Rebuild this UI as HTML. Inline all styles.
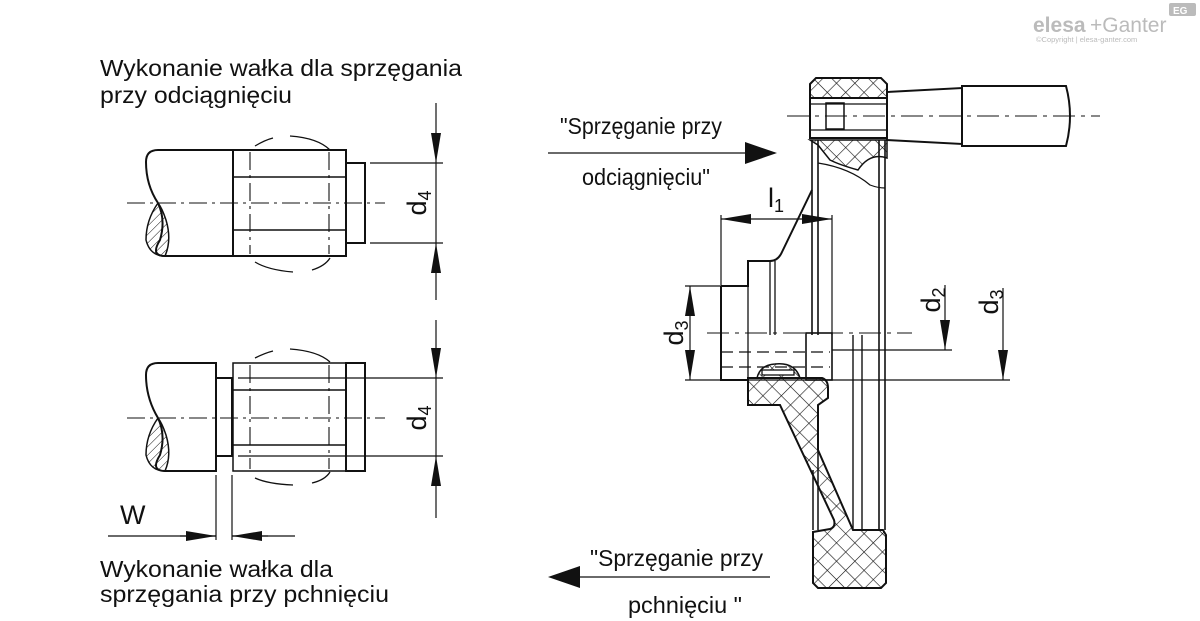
<!DOCTYPE html>
<html><head><meta charset="utf-8"><style>
html,body{margin:0;padding:0;background:#fff}
svg{display:block}
text{font-family:"Liberation Sans",sans-serif;fill:#111}
</style></head><body>
<svg width="1200" height="621" viewBox="0 0 1200 621" xmlns="http://www.w3.org/2000/svg">
<defs>
<pattern id="xh" width="13" height="13" patternUnits="userSpaceOnUse" patternTransform="rotate(45)">
<path d="M0 0H13M0 0V13" stroke="#111" stroke-width="1.2" fill="none"/>
</pattern>
<pattern id="sh" width="6" height="6" patternUnits="userSpaceOnUse" patternTransform="rotate(-45)">
<path d="M0 0H6" stroke="#111" stroke-width="1" fill="none"/>
</pattern>
<marker id="a" viewBox="0 0 30 10" refX="30" refY="5" markerWidth="30" markerHeight="10" markerUnits="userSpaceOnUse" orient="auto"><path d="M0 0L30 5L0 10z" fill="#111"/></marker>
</defs>

<!-- logo -->
<text x="1033" y="32" font-size="21" font-weight="bold" style="fill:#bbb">elesa</text>
<text x="1090" y="32" font-size="21" style="fill:#bbb">+Ganter</text>
<text x="1036" y="42" font-size="7.5" style="fill:#bbb">©Copyright | elesa-ganter.com</text>
<rect x="1169" y="3" width="27" height="13" rx="2" fill="#bbb"/>
<text x="1173" y="14" font-size="10" font-weight="bold" style="fill:#fff">EG</text>

<!-- texts left -->
<g font-size="23">
<text x="100" y="76" textLength="362" lengthAdjust="spacingAndGlyphs">Wykonanie wałka dla sprzęgania</text>
<text x="100" y="103" textLength="192" lengthAdjust="spacingAndGlyphs">przy odciągnięciu</text>
<text x="100" y="577" textLength="233" lengthAdjust="spacingAndGlyphs">Wykonanie wałka dla</text>
<text x="100" y="602" textLength="289" lengthAdjust="spacingAndGlyphs">sprzęgania przy pchnięciu</text>
</g>

<g stroke="#111" fill="none" stroke-width="2">
<!-- top shaft -->
<path d="M233 150H158Q146 150 146 162Q146 185 158 203Q166 220 160 240Q150 256 165 256H233"/>
<path d="M158 203Q146 220 146 240Q150 256 165 256Q172 240 166 220Q162 208 158 203z" fill="url(#sh)" stroke-width="1.5"/>
<rect x="233" y="150" width="113" height="106"/>
<rect x="346" y="163" width="19" height="80"/>
<path d="M233 177H346M233 230H346" stroke-width="1.5"/>
<path d="M255 146Q265 140 273 138M290 136Q318 138 330 150M255 262Q268 270 293 272M312 270Q325 266 330 258" stroke-width="1.3"/>
<path d="M370 163H443M370 243H443" stroke-width="1.2"/>
<path d="M436 103V163" stroke-width="1.2" marker-end="url(#a)"/>
<path d="M436 300V243" stroke-width="1.2" marker-end="url(#a)"/>
<path d="M436 163V243" stroke-width="1.2"/>
<path d="M127 203H385M250 152V254M329 152V254" stroke-width="1.1" stroke-dasharray="18 5 3 5"/>

<!-- bottom shaft -->
<path d="M216 363H158Q146 363 146 375Q146 398 158 418Q166 435 160 455Q150 471 165 471H216Z"/>
<path d="M158 418Q146 435 146 455Q150 471 165 471Q172 455 166 435Q162 423 158 418z" fill="url(#sh)" stroke-width="1.5"/>
<rect x="216" y="378" width="16" height="78"/>
<rect x="233" y="363" width="113" height="108" stroke-width="1.5"/>
<rect x="346" y="363" width="19" height="108"/>
<path d="M233 390H346M233 445H346" stroke-width="1.5"/>
<path d="M255 358Q265 353 273 351M290 349Q318 351 330 362M255 478Q268 484 293 485M312 483Q325 480 330 472" stroke-width="1.3"/>
<path d="M238 378H443M238 456H443" stroke-width="1.2"/>
<path d="M436 320V378" stroke-width="1.2" marker-end="url(#a)"/>
<path d="M436 518V456" stroke-width="1.2" marker-end="url(#a)"/>
<path d="M436 378V456" stroke-width="1.2"/>
<path d="M127 418H385M250 365V469M329 365V469" stroke-width="1.1" stroke-dasharray="18 5 3 5"/>
<!-- W -->
<path d="M216 475V540M232 475V540" stroke-width="1.2"/>
<path d="M108 536H216M232 536H295" stroke-width="1.2"/>
<path d="M180 536H216" stroke-width="1.2" marker-end="url(#a)"/>
<path d="M268 536H232" stroke-width="1.2" marker-end="url(#a)"/>

<!-- arrows right -->
<path d="M548 153H775" stroke-width="1.3"/>
<path d="M745 142L777 153L745 164z" fill="#111" stroke="none"/>
<path d="M580 577H770" stroke-width="1.3"/>
<path d="M580 566L548 577L580 588z" fill="#111" stroke="none"/>

<!-- handle -->
<path d="M887 92L962 88V144L887 140Z"/>
<path d="M962 86H1066Q1074 116 1066 146H962Z"/>
<path d="M787 116H1100" stroke-width="1.1" stroke-dasharray="22 6 4 6"/>

<!-- rim top -->
<path d="M810 84L816 78H881L887 84V98H810Z" fill="url(#xh)"/>
<rect x="810" y="98" width="77" height="40"/>
<path d="M810 104H887M810 130H887" stroke-width="1.3"/>
<rect x="826" y="103" width="18" height="26" stroke-width="1.5"/>
<path d="M810 140H887V158Q870 152 858 170Q840 165 830 160Q822 150 818 145Z" fill="url(#xh)" stroke-width="1.5"/>
<path d="M818 163Q850 168 870 185Q878 188 885 188" stroke-width="1.2"/>
<path d="M812 140V335M818 140V335M879 140V530M885 140V530" stroke-width="1.6"/>
<path d="M853 335V530M862 335V530" stroke-width="1.4"/>

<!-- hub -->
<path d="M721 286H748V261H770Q778 261 782 252L812 190" />
<path d="M721 286V380H748" />
<path d="M748 261V380M770 261V335M775 261V335" stroke-width="1.3"/>
<rect x="806" y="333" width="26" height="47" stroke-width="1.6"/>
<path d="M721 352H830M721 367H830" stroke-width="1.2" stroke-dasharray="12 6"/>
<path d="M707 333H912" stroke-width="1.1" stroke-dasharray="22 6 4 6"/>
<path d="M748 378H822Q828 380 828 388V398L818 405V450L853 530H883L886 535V583L881 588H818L813 583V532L830 529Q836 527 834 520L780 405H748Z" fill="url(#xh)"/>
<path d="M757 378Q760 365 775 364Q795 362 800 378" fill="url(#xh)" stroke-width="1.5"/>
<rect x="762" y="370" width="32" height="5" fill="#fff" stroke-width="1.3"/>
<path d="M813 470V530M818 450V530" stroke-width="1.5"/>
<!-- l1 -->
<path d="M721 215V285M832 215V335" stroke-width="1.2"/>
<path d="M760 219H721" stroke-width="1.2" marker-end="url(#a)"/>
<path d="M760 219H832" stroke-width="1.2" marker-end="url(#a)"/>
<!-- d3 left -->
<path d="M685 286H721M685 380H1010" stroke-width="1.2"/>
<path d="M690 333V286" stroke-width="1.2" marker-end="url(#a)"/>
<path d="M690 333V380" stroke-width="1.2" marker-end="url(#a)"/>
<!-- d2 -->
<path d="M832 350H952" stroke-width="1.2"/>
<path d="M945 285V350" stroke-width="1.2" marker-end="url(#a)"/>
<!-- d3 right -->
<path d="M1003 288V380" stroke-width="1.2" marker-end="url(#a)"/>
</g>

<g font-size="27">
<text transform="translate(426,203) rotate(-90)" text-anchor="middle">d<tspan font-size="18" dy="5">4</tspan></text>
<text transform="translate(426,418) rotate(-90)" text-anchor="middle">d<tspan font-size="18" dy="5">4</tspan></text>
<text transform="translate(683,333) rotate(-90)" text-anchor="middle">d<tspan font-size="18" dy="5">3</tspan></text>
<text transform="translate(940,300) rotate(-90)" text-anchor="middle">d<tspan font-size="18" dy="5">2</tspan></text>
<text transform="translate(998,302) rotate(-90)" text-anchor="middle">d<tspan font-size="18" dy="5">3</tspan></text>
<text x="768" y="207">l<tspan font-size="18" dy="5">1</tspan></text>
<text x="120" y="524">W</text>
</g>
<g font-size="23">
<text x="560" y="134" textLength="162" lengthAdjust="spacingAndGlyphs">"Sprzęganie przy</text>
<text x="582" y="185" textLength="128" lengthAdjust="spacingAndGlyphs">odciągnięciu"</text>
<text x="590" y="566" textLength="173" lengthAdjust="spacingAndGlyphs">"Sprzęganie przy</text>
<text x="628" y="613" textLength="114" lengthAdjust="spacingAndGlyphs">pchnięciu "</text>
</g>
</svg>
</body></html>
